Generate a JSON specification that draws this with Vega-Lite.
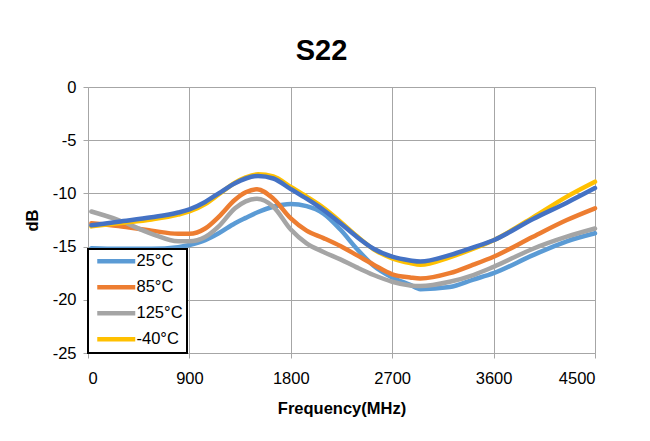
{
  "$schema": "https://vega.github.io/schema/vega-lite/v6.json",
  "width": 507,
  "height": 266,
  "autosize": {"type": "none"},
  "padding": {"left": 88, "top": 87, "right": 55, "bottom": 88},
  "background": "white",
  "config": {"view": {"stroke": null}},
  "title": {"text": "S22", "font": "Liberation Sans", "fontSize": 29, "fontWeight": "bold", "color": "black", "dx": -20, "offset": 13},
  "data": {"values": [
    {"series":"25°C","freq":30,"db":-15.15},{"series":"25°C","freq":270,"db":-15.2},{"series":"25°C","freq":565,"db":-15.2},{"series":"25°C","freq":800,"db":-15.05},{"series":"25°C","freq":900,"db":-14.85},{"series":"25°C","freq":1040,"db":-14.4},{"series":"25°C","freq":1160,"db":-13.75},{"series":"25°C","freq":1305,"db":-12.8},{"series":"25°C","freq":1400,"db":-12.3},{"series":"25°C","freq":1500,"db":-11.8},{"series":"25°C","freq":1645,"db":-11.25},{"series":"25°C","freq":1800,"db":-11.0},{"series":"25°C","freq":1940,"db":-11.2},{"series":"25°C","freq":2090,"db":-11.9},{"series":"25°C","freq":2240,"db":-13.4},{"series":"25°C","freq":2385,"db":-15.2},{"series":"25°C","freq":2535,"db":-16.8},{"series":"25°C","freq":2700,"db":-17.9},{"series":"25°C","freq":2860,"db":-18.6},{"series":"25°C","freq":2950,"db":-19.0},{"series":"25°C","freq":3210,"db":-18.8},{"series":"25°C","freq":3420,"db":-18.1},{"series":"25°C","freq":3600,"db":-17.5},{"series":"25°C","freq":3950,"db":-15.8},{"series":"25°C","freq":4250,"db":-14.5},{"series":"25°C","freq":4500,"db":-13.75},
    {"series":"85°C","freq":30,"db":-12.8},{"series":"85°C","freq":270,"db":-13.06},{"series":"85°C","freq":565,"db":-13.5},{"series":"85°C","freq":800,"db":-13.8},{"series":"85°C","freq":900,"db":-13.8},{"series":"85°C","freq":1040,"db":-13.3},{"series":"85°C","freq":1160,"db":-12.2},{"series":"85°C","freq":1305,"db":-10.6},{"series":"85°C","freq":1400,"db":-9.9},{"series":"85°C","freq":1500,"db":-9.6},{"series":"85°C","freq":1645,"db":-10.5},{"series":"85°C","freq":1800,"db":-12.35},{"series":"85°C","freq":1940,"db":-13.5},{"series":"85°C","freq":2090,"db":-14.2},{"series":"85°C","freq":2240,"db":-14.95},{"series":"85°C","freq":2385,"db":-15.8},{"series":"85°C","freq":2535,"db":-16.7},{"series":"85°C","freq":2700,"db":-17.6},{"series":"85°C","freq":2860,"db":-17.9},{"series":"85°C","freq":2950,"db":-18.0},{"series":"85°C","freq":3210,"db":-17.5},{"series":"85°C","freq":3420,"db":-16.7},{"series":"85°C","freq":3600,"db":-15.95},{"series":"85°C","freq":3950,"db":-14.07},{"series":"85°C","freq":4250,"db":-12.5},{"series":"85°C","freq":4500,"db":-11.4},
    {"series":"125°C","freq":30,"db":-11.7},{"series":"125°C","freq":270,"db":-12.5},{"series":"125°C","freq":565,"db":-13.8},{"series":"125°C","freq":800,"db":-14.5},{"series":"125°C","freq":900,"db":-14.5},{"series":"125°C","freq":1040,"db":-14.1},{"series":"125°C","freq":1160,"db":-13.1},{"series":"125°C","freq":1305,"db":-11.4},{"series":"125°C","freq":1400,"db":-10.75},{"series":"125°C","freq":1500,"db":-10.5},{"series":"125°C","freq":1645,"db":-11.25},{"series":"125°C","freq":1800,"db":-13.4},{"series":"125°C","freq":1940,"db":-14.7},{"series":"125°C","freq":2090,"db":-15.5},{"series":"125°C","freq":2240,"db":-16.2},{"series":"125°C","freq":2385,"db":-16.95},{"series":"125°C","freq":2535,"db":-17.67},{"series":"125°C","freq":2700,"db":-18.3},{"series":"125°C","freq":2860,"db":-18.65},{"series":"125°C","freq":2950,"db":-18.7},{"series":"125°C","freq":3210,"db":-18.3},{"series":"125°C","freq":3420,"db":-17.67},{"series":"125°C","freq":3600,"db":-16.9},{"series":"125°C","freq":3950,"db":-15.2},{"series":"125°C","freq":4250,"db":-14.07},{"series":"125°C","freq":4500,"db":-13.3},
    {"series":"-40°C","freq":30,"db":-13.1},{"series":"-40°C","freq":270,"db":-12.8},{"series":"-40°C","freq":565,"db":-12.45},{"series":"-40°C","freq":800,"db":-12.0},{"series":"-40°C","freq":900,"db":-11.7},{"series":"-40°C","freq":1040,"db":-11.0},{"series":"-40°C","freq":1160,"db":-10.1},{"series":"-40°C","freq":1305,"db":-9.0},{"series":"-40°C","freq":1400,"db":-8.5},{"series":"-40°C","freq":1509,"db":-8.2},{"series":"-40°C","freq":1645,"db":-8.4},{"series":"-40°C","freq":1800,"db":-9.4},{"series":"-40°C","freq":1940,"db":-10.3},{"series":"-40°C","freq":2090,"db":-11.35},{"series":"-40°C","freq":2240,"db":-12.65},{"series":"-40°C","freq":2385,"db":-14.0},{"series":"-40°C","freq":2535,"db":-15.25},{"series":"-40°C","freq":2700,"db":-16.1},{"series":"-40°C","freq":2860,"db":-16.55},{"series":"-40°C","freq":2950,"db":-16.7},{"series":"-40°C","freq":3210,"db":-16.0},{"series":"-40°C","freq":3420,"db":-15.2},{"series":"-40°C","freq":3600,"db":-14.4},{"series":"-40°C","freq":3950,"db":-12.25},{"series":"-40°C","freq":4250,"db":-10.3},{"series":"-40°C","freq":4500,"db":-8.9},
    {"series":"Series 5","freq":30,"db":-13.0},{"series":"Series 5","freq":270,"db":-12.66},{"series":"Series 5","freq":565,"db":-12.25},{"series":"Series 5","freq":800,"db":-11.8},{"series":"Series 5","freq":900,"db":-11.5},{"series":"Series 5","freq":1040,"db":-10.8},{"series":"Series 5","freq":1160,"db":-10.0},{"series":"Series 5","freq":1305,"db":-9.05},{"series":"Series 5","freq":1400,"db":-8.6},{"series":"Series 5","freq":1509,"db":-8.36},{"series":"Series 5","freq":1645,"db":-8.6},{"series":"Series 5","freq":1800,"db":-9.6},{"series":"Series 5","freq":1940,"db":-10.5},{"series":"Series 5","freq":2090,"db":-11.56},{"series":"Series 5","freq":2240,"db":-12.8},{"series":"Series 5","freq":2385,"db":-14.07},{"series":"Series 5","freq":2535,"db":-15.2},{"series":"Series 5","freq":2700,"db":-15.95},{"series":"Series 5","freq":2860,"db":-16.3},{"series":"Series 5","freq":2950,"db":-16.4},{"series":"Series 5","freq":3210,"db":-15.8},{"series":"Series 5","freq":3420,"db":-15.07},{"series":"Series 5","freq":3600,"db":-14.4},{"series":"Series 5","freq":3950,"db":-12.4},{"series":"Series 5","freq":4250,"db":-10.87},{"series":"Series 5","freq":4500,"db":-9.5}
  ]},
  "encoding": {
    "x": {"field": "freq", "type": "quantitative", "scale": {"domain": [0, 4500], "nice": false},
      "axis": {"title": "Frequency(MHz)", "values": [0, 900, 1800, 2700, 3600, 4500], "grid": true, "gridColor": "#a6a6a6", "domainColor": "#a6a6a6", "tickColor": "#a6a6a6", "tickSize": 5, "labelFont": "Liberation Sans", "labelFontSize": 16.5, "labelColor": "black", "labelPadding": 12, "labelExpr": "toString(datum.value)", "titleFont": "Liberation Sans", "titleFontSize": 16.5, "titleFontWeight": "bold", "titleColor": "black", "titlePadding": 14}},
    "y": {"field": "db", "type": "quantitative", "scale": {"domain": [-25, 0], "nice": false},
      "axis": {"title": "dB", "values": [-25, -20, -15, -10, -5, 0], "grid": true, "gridColor": "#a6a6a6", "domainColor": "#a6a6a6", "tickColor": "#a6a6a6", "tickSize": 5, "labelFont": "Liberation Sans", "labelFontSize": 16.5, "labelColor": "black", "labelPadding": 7, "labelExpr": "toString(datum.value)", "titleFont": "Liberation Sans", "titleFontSize": 16.5, "titleFontWeight": "bold", "titleColor": "black", "titlePadding": 12}}
  },
  "layer": [
    {"transform": [{"filter": "datum.series !== 'Series 5'"}],
     "mark": {"type": "line", "interpolate": "monotone", "strokeWidth": 4.5, "strokeCap": "round"},
     "encoding": {
       "color": {"field": "series", "type": "nominal",
         "scale": {"domain": ["25°C", "85°C", "125°C", "-40°C"], "range": ["#5B9BD5", "#ED7D31", "#A5A5A5", "#FFC000"]},
         "legend": {"orient": "bottom-left", "offset": 0, "title": null, "strokeColor": "black", "fillColor": "white", "padding": 4, "symbolType": "M-0.6,0H7", "symbolSize": 100, "symbolStrokeWidth": 4.5, "symbolStrokeCap": "round", "labelFont": "Liberation Sans", "labelFontSize": 16.5, "labelColor": "black", "rowPadding": 7, "labelOffset": 28,
           "encode": {"legend": {"update": {"strokeWidth": {"value": 2}}}}}}
     }},
    {"transform": [{"filter": "datum.series === 'Series 5'"}],
     "mark": {"type": "line", "interpolate": "monotone", "strokeWidth": 4.5, "strokeCap": "round", "color": "#4472C4"},
     "encoding": {}}
  ]
}
